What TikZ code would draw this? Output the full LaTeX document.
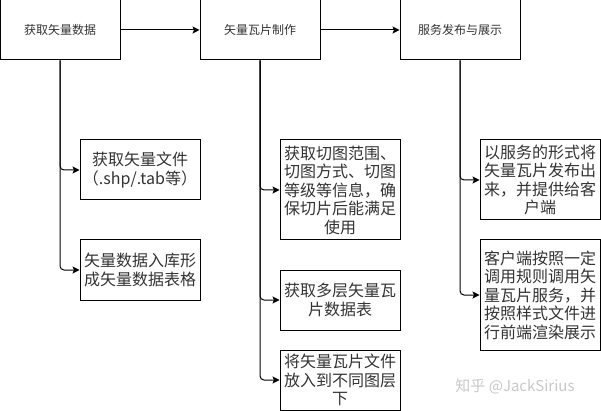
\documentclass[tikz,border=0pt]{standalone}
\usepackage{fontspec}
\usepackage{tikz}
\usetikzlibrary{arrows.meta}
\newfontfamily\cjk{Noto Sans CJK SC}
\definecolor{txtgray}{HTML}{333333}
\definecolor{markgray}{HTML}{C8C8C8}

\tikzset{
    topbox/.style={draw=black,line width=1pt,minimum width=120pt,minimum height=60pt,
        inner sep=0pt,text=txtgray,font=\cjk\fontsize{12pt}{14pt}\selectfont},
    subbox/.style={draw=black,line width=1pt,minimum width=120pt,inner sep=0pt,
        text width=116pt,align=center,text=txtgray,font=\cjk\fontsize{16pt}{18.5pt}\selectfont},
    arr/.style={line width=1pt,-{Stealth[length=7pt,width=7pt,inset=1.5pt]}},
    branch/.style={arr,rounded corners=4pt}
}

\begin{document}
\begin{tikzpicture}[x=1pt,y=1pt]
        \useasboundingbox (0,0) rectangle (601,-411);

        % top row
        \node[topbox] (get) at (60,-30) {获取矢量数据};
        \node[topbox] (make) at (260,-30) {矢量瓦片制作};
        \node[topbox] (serve) at (460,-30) {服务发布与展示};

        \draw[arr] (get) -- (make);
        \draw[arr] (make) -- (serve);

        % left column
        \node[subbox,minimum height=60pt] (getfile) at (140,-170) {获取矢量文件\\（.shp/.tab等）};
        \node[subbox,minimum height=60pt] (gettable) at (140,-270) {矢量数据入库形\\成矢量数据表格};

        % middle column
        \node[subbox,minimum height=100pt] (cutinfo) at (340,-190) {获取切图范围、\\切图方式、切图\\等级等信息，确\\保切片后能满足\\使用};
        \node[subbox,minimum height=60pt] (tiletable) at (340,-300) {获取多层矢量瓦\\片数据表};
        \node[subbox,minimum height=60pt] (layers) at (340,-380) {将矢量瓦片文件\\放入到不同图层\\下};

        % right column
        \node[subbox,minimum height=80pt] (publish) at (540,-180) {以服务的形式将\\矢量瓦片发布出\\来，并提供给客\\户端};
        \node[subbox,minimum height=110pt] (render) at (540,-295) {客户端按照一定\\调用规则调用矢\\量瓦片服务，并\\按照样式文件进\\行前端渲染展示};

        \draw[branch] (get.south) |- (getfile.west);
        \draw[branch] (get.south) |- (gettable.west);

        \draw[branch] (make.south) |- (cutinfo.west);
        \draw[branch] (make.south) |- (tiletable.west);
        \draw[branch] (make.south) |- (layers.west);

        \draw[branch] (serve.south) |- (publish.west);
        \draw[branch] (serve.south) |- (render.west);

        % watermark
        \node[text=markgray,font=\cjk\fontsize{15pt}{17pt}\selectfont] (mark) at (515,-386) {知乎 @JackSirius};
    \end{tikzpicture}
\end{document}
